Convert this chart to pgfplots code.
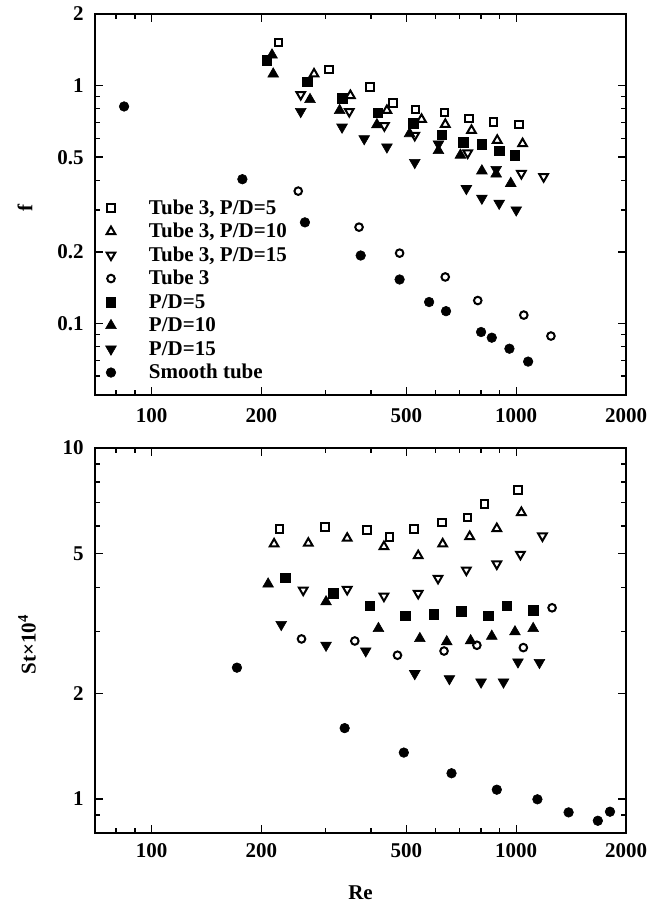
\documentclass[border=0pt]{standalone}
\usepackage{fontspec}
\setmainfont{Liberation Serif}
\usepackage{pgfplots}
\pgfplotsset{compat=1.18}
\pgfplotsset{
 oSq/.style={only marks, mark=square, mark size=1.9pt, line width=1pt, black},
 oUp/.style={only marks, mark=triangle, mark size=2.5pt, line width=1pt, black},
 oDn/.style={only marks, mark=triangle, mark size=2.5pt, line width=1pt, black, mark options={rotate=180}},
 oCi/.style={only marks, mark=o, mark size=1.9pt, line width=1pt, black},
 fSq/.style={only marks, mark=square*, mark size=2.4pt, line width=0.3pt, black},
 fUp/.style={only marks, mark=triangle*, mark size=3.1pt, line width=0.3pt, black},
 fDn/.style={only marks, mark=triangle*, mark size=3.1pt, line width=0.3pt, black, mark options={rotate=180}},
 fCi/.style={only marks, mark=*, mark size=2.4pt, line width=0.3pt, black},
}
\begin{document}
\begin{tikzpicture}
\useasboundingbox (0pt,0pt) rectangle (331.5pt,-453pt);
% ---------- top panel: f ----------
\begin{axis}[at={(47.5pt,-197.5pt)}, anchor=south west,
  scale only axis, xmode=log, ymode=log, width=265.5pt, height=190.5pt,
  xmin=70, xmax=2000,
  xtick={100,200,500,1000,2000}, xticklabels={100,200,500,1000,2000},
  minor xtick={80,90,300,400,600,700,800,900},
  tick align=inside,
  major tick length=3.8pt, minor tick length=2.5pt,
  every tick/.style={black, line width=0.7pt},
  axis line style={line width=1pt},
  ticklabel style={font=\fontsize{10.5}{12}\selectfont\bfseries},
  every axis label/.append style={font=\fontsize{10.5}{12}\selectfont\bfseries},
  yticklabel style={inner sep=0pt, xshift=-5.5pt},
  legend image code/.code={\path (-3pt,0pt) (18.5pt,0pt); \draw plot coordinates {(0pt,1pt)};},
  ymin=0.05, ymax=2,
  ytick={0.1,0.2,0.5,1,2}, yticklabels={0.1,0.2,0.5,1,2},
  minor ytick={0.06,0.07,0.08,0.09,0.3,0.4,0.6,0.7,0.8,0.9},
  xticklabel style={inner sep=0pt, yshift=-6.5pt},
  ylabel={f},
  ylabel style={at={(axis description cs:-0.132,0.49)}, anchor=center},
  legend cell align=left,
  legend style={draw=none, fill=none, inner sep=0pt, outer sep=0pt, row sep=0pt,
    font=\fontsize{10.5}{12}\selectfont\bfseries,
    nodes={inner sep=0pt, text height=8pt, text depth=3.75pt},
    at={(axis description cs:0.0169,0.5163)}, anchor=north west},
]
\addplot[oSq] coordinates {(223,1.52) (307,1.167) (397,0.984) (459,0.844) (530,0.795) (636,0.770) (741,0.727) (866,0.703) (1017,0.685)};
\addlegendentry{Tube 3, P/D=5}
\addplot[oUp] coordinates {(279,1.119) (351,0.908) (442,0.786) (550,0.721) (639,0.687) (754,0.648) (887,0.589) (1041,0.570)};
\addlegendentry{Tube 3, P/D=10}
\addplot[oDn] coordinates {(256.5,0.917) (348.5,0.778) (435,0.678) (527,0.618) (736,0.521) (1033,0.427) (1189,0.414)};
\addlegendentry{Tube 3, P/D=15}
\addplot[oCi] coordinates {(252.5,0.360) (370.7,0.254) (478.9,0.1975) (638.8,0.1568) (784.5,0.1248) (1049,0.1084) (1245,0.0885)};
\addlegendentry{Tube 3}
\addplot[fSq] coordinates {(207.3,1.28) (267,1.039) (333,0.885) (417,0.768) (522,0.696) (625,0.622) (716,0.579) (805,0.566) (898,0.531) (992,0.510)};
\addlegendentry{P/D=5}
\addplot[fUp] coordinates {(214,1.345) (215.6,1.119) (272,0.874) (328,0.786) (415,0.685) (510,0.628) (612,0.533) (703,0.510) (805,0.438) (881,0.425) (966,0.388)};
\addlegendentry{P/D=10}
\addplot[fDn] coordinates {(256.5,0.778) (333,0.669) (383,0.598) (442,0.552) (527,0.475) (612,0.568) (730,0.369) (805,0.336) (881,0.444) (898,0.320) (1000,0.300)};
\addlegendentry{P/D=15}
\addplot[fCi] coordinates {(84.1,0.817) (177.5,0.404) (263.4,0.266) (374.6,0.193) (478.9,0.153) (577,0.123) (642,0.1126) (801,0.092) (857,0.0871) (958,0.0783) (1078,0.0691)};
\addlegendentry{Smooth tube}
\end{axis}
% ---------- bottom panel: St ----------
\begin{axis}[at={(47.5pt,-416.5pt)}, anchor=south west,
  scale only axis, xmode=log, ymode=log, width=265.5pt, height=192.5pt,
  xmin=70, xmax=2000,
  xtick={100,200,500,1000,2000}, xticklabels={100,200,500,1000,2000},
  minor xtick={80,90,300,400,600,700,800,900},
  tick align=inside,
  major tick length=3.8pt, minor tick length=2.5pt,
  every tick/.style={black, line width=0.7pt},
  axis line style={line width=1pt},
  ticklabel style={font=\fontsize{10.5}{12}\selectfont\bfseries},
  every axis label/.append style={font=\fontsize{10.5}{12}\selectfont\bfseries},
  yticklabel style={inner sep=0pt, xshift=-5.5pt},
  ymin=0.8, ymax=10,
  ytick={1,2,5,10}, yticklabels={1,2,5,10},
  minor ytick={0.9,3,4,6,7,8,9},
  xticklabel style={inner sep=0pt, yshift=-5pt},
  xlabel={Re},
  xlabel style={at={(axis description cs:0.5,0)}, yshift=-30pt, anchor=center},
  ylabel={St×10\textsuperscript{4}},
  ylabel style={at={(axis description cs:-0.128,0.49)}, anchor=center},
]
\addplot[oSq] coordinates {(224.4,5.883) (299.4,5.947) (389.9,5.845) (449.1,5.568) (524.4,5.883) (626.9,6.13) (736,6.34) (818.6,6.93) (1011,7.60)};
\addplot[oUp] coordinates {(216.8,5.33) (269.1,5.355) (344,5.533) (433.8,5.236) (538.5,4.935) (628.6,5.33) (745.5,5.593) (884.6,5.895) (1033,6.55)};
\addplot[oDn] coordinates {(260.6,3.937) (344,3.955) (433.8,3.785) (538.5,3.853) (610.4,4.253) (730,4.491) (884.6,4.673) (1027,4.98) (1180,5.617)};
\addplot[oCi] coordinates {(257.8,2.858) (360.9,2.82) (472.5,2.568) (634,2.64) (780,2.742) (1046,2.70) (1254,3.506)};
\addplot[fSq] coordinates {(232.9,4.271) (315,3.853) (397.2,3.552) (495.7,3.326) (594.3,3.363) (707,3.43) (838.3,3.326) (942.9,3.552) (1113,3.452)};
\addplot[fUp] coordinates {(208.8,4.097) (301,3.646) (419,3.06) (544.2,2.865) (645,2.806) (750,2.825) (857,2.909) (992,2.994) (1113,3.06)};
\addplot[fDn] coordinates {(226.8,3.142) (301,2.742) (386.8,2.642) (527,2.276) (655.9,2.202) (801,2.154) (922.8,2.154) (1011,2.458) (1158,2.449)};
\addplot[fCi] coordinates {(171.5,2.367) (338.5,1.592) (491.8,1.356) (664.7,1.184) (884.6,1.063) (1143,0.998) (1392,0.916) (1674,0.867) (1808,0.92)};
\end{axis}
\end{tikzpicture}
\end{document}
